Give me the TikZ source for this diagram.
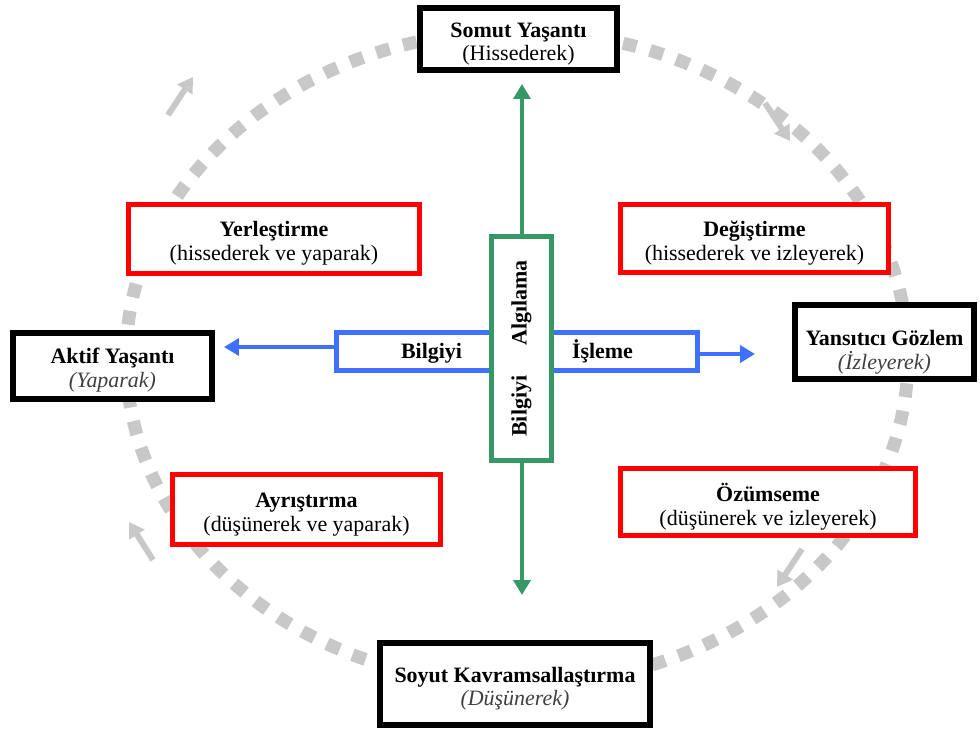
\documentclass[tikz,border=0pt]{standalone}
\usepackage{fontspec}
\setmainfont{Liberation Serif}
\usetikzlibrary{arrows.meta}

\definecolor{cyclegray}{RGB}{200,200,200}
\definecolor{stagered}{RGB}{255,0,0}
\definecolor{processblue}{RGB}{64,112,255}
\definecolor{perceivegreen}{RGB}{53,152,102}

\newcommand{\boxtitle}[2][14pt]{\rule{0pt}{#1}\textbf{#2}}
\newcommand{\modenote}[1]{{\color{black!75}\itshape #1}}

\begin{document}
\begin{tikzpicture}[
  x = 0.02cm,
  y = -0.02cm,
  every node/.style = {font = \fontsize{12.5}{13.6}\selectfont, align = center},
  mode/.style = {draw, line width = 3.4pt, fill = white, inner sep = 0pt},
  learnstyle/.style = {mode, draw = stagered, line width = 3pt},
  processbox/.style = {mode, draw = processblue, line width = 2.6pt},
  perceivebox/.style = {draw = perceivegreen, line width = 2.8pt, fill = white,
    inner sep = 0pt, rotate = 90},
  cyclepath/.style = {draw = cyclegray, line width = 7.4pt,
    dash pattern = on 7.9pt off 7.9pt},
  cyclearrow/.style = {draw = cyclegray, line width = 3.4pt,
    -{Triangle[length = 8.5pt, width = 10pt]}},
  processarrow/.style = {draw = processblue, line width = 2.3pt,
    -{Triangle[length = 8.5pt, width = 9.6pt]}},
  perceivearrow/.style = {draw = perceivegreen, line width = 2.3pt,
    {Triangle[length = 8.5pt, width = 9.6pt]}-{Triangle[length = 8.5pt, width = 9.6pt]}},
  ]

  \useasboundingbox (0, 0) rectangle (980, 731);

  \draw [cyclepath] (517, 358) ellipse [x radius = 7.82cm, y radius = 6.54cm];

  \draw [cyclearrow] (168, 115) -- (193, 77);

  \draw [cyclearrow] (765, 103) -- (790, 141);

  \draw [cyclearrow] (802, 549) -- (777, 587);

  \draw [cyclearrow] (153, 560) -- (129, 522);

  \coordinate (AlgilamaTop) at (522, 84);

  \coordinate (AlgilamaBottom) at (522, 595);

  \coordinate (AktifTip) at (224, 347);

  \coordinate (YansiticiTip) at (755, 354);

  \draw [perceivearrow] (AlgilamaBottom) -- (AlgilamaTop);

  \node at (517, 351.5)
  [processbox, minimum width = 7.22cm, minimum height = 0.76cm, name = Isleme]
  {\textbf{Bilgiyi}\hspace{2.2cm}\textbf{İşleme}};

  \node at (521.5, 348.5)
  [perceivebox, minimum width = 4.48cm, minimum height = 1.2cm, name = Algilama]
  {\textbf{Bilgiyi}\hspace{0.6cm}\textbf{Algılama}};

  \node at (518.5, 39)
  [mode, minimum width = 3.94cm, minimum height = 1.24cm, name = Somut]
  {\boxtitle{Somut Yaşantı}\\(Hissederek)};

  \node at (112.5, 366)
  [mode, minimum width = 3.98cm, minimum height = 1.32cm, name = Aktif]
  {\boxtitle[13pt]{Aktif Yaşantı}\\\modenote{(Yaparak)}};

  \node at (884.5, 342)
  [mode, minimum width = 3.58cm, minimum height = 1.48cm, name = Yansitici]
  {\boxtitle[20pt]{Yansıtıcı Gözlem}\\\modenote{(İzleyerek)}};

  \node at (515, 684)
  [mode, minimum width = 5.4cm, minimum height = 1.64cm, name = Soyut]
  {\boxtitle{Soyut Kavramsallaştırma}\\\modenote{(Düşünerek)}};

  \node at (274, 239)
  [learnstyle, minimum width = 5.82cm, minimum height = 1.38cm, name = Yerlestirme]
  {\boxtitle{Yerleştirme}\\(hissederek ve yaparak)};

  \node at (754.5, 238.5)
  [learnstyle, minimum width = 5.36cm, minimum height = 1.36cm, name = Degistirme]
  {\boxtitle{Değiştirme}\\(hissederek ve izleyerek)};

  \node at (306.5, 509.5)
  [learnstyle, minimum width = 5.36cm, minimum height = 1.4cm, name = Ayristirma]
  {\boxtitle{Ayrıştırma}\\(düşünerek ve yaparak)};

  \node at (768, 502)
  [learnstyle, minimum width = 5.9cm, minimum height = 1.34cm, name = Ozumseme]
  {\boxtitle[16pt]{Özümseme}\\(düşünerek ve izleyerek)};

  \draw [processarrow] (Isleme.west |- AktifTip) -- (AktifTip);

  \draw [processarrow] (Isleme.east |- YansiticiTip) -- (YansiticiTip);

\end{tikzpicture}
\end{document}
